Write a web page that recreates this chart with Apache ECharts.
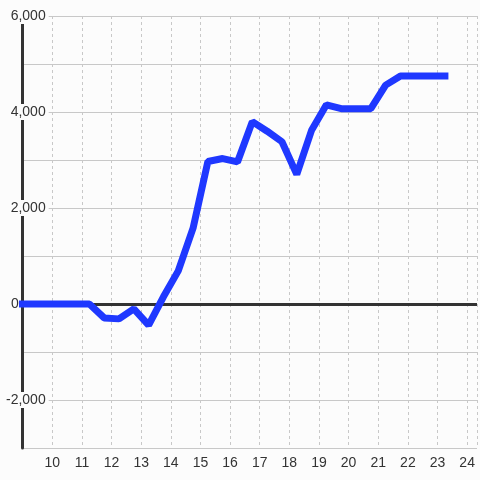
<!DOCTYPE html>
<html>
<head>
<meta charset="utf-8">
<script src="https://cdn.jsdelivr.net/npm/echarts@6/dist/echarts.min.js"></script>
<style>
  html, body { margin: 0; padding: 0; background: #fcfcfc; }
  #chart { width: 480px; height: 480px; }
</style>
</head>
<body>
<div id="chart"></div>
<script>
// time of day (hours) and the plotted values
var hours = [8.75, 9.25, 9.75, 10.25, 10.75, 11.25, 11.75, 12.25, 12.75, 13.25,
  13.75, 14.25, 14.75, 15.25, 15.75, 16.25, 16.75, 17.25, 17.75, 18.25,
  18.75, 19.25, 19.75, 20.25, 20.75, 21.25, 21.75, 22.25, 22.75, 23.25];
var values = [0, 0, 0, 0, 0, 0, -290, -310, -100, -440,
  150, 690, 1580, 2970, 3030, 2960, 3800, 3600, 3380, 2700,
  3620, 4150, 4070, 4070, 4070, 4560, 4750, 4750, 4750, 4750];

var BG = '#fcfcfc';
var TEXT = '#333';

var points = [];
for (var i = 0; i < hours.length; i++) {
  points.push([hours[i], values[i]]);
}

var chart = echarts.init(document.getElementById('chart'));
var option = {
  backgroundColor: BG,
  animation: false,
  grid: { left: 20, right: 0, top: 16, bottom: 32 },
  xAxis: {
    type: 'value',
    min: 9,
    max: 24.333,
    interval: 1,
    axisLine: { show: false },
    axisTick: { show: false },
    axisLabel: {
      color: TEXT,
      fontSize: 14,
      fontFamily: 'Liberation Sans',
      margin: 8,
      formatter: function (v) {
        return (Number.isInteger(v) && v > 9) ? String(v) : '';
      }
    },
    splitLine: { lineStyle: { color: '#c8c8c8', type: [3, 3] } }
  },
  yAxis: {
    type: 'value',
    min: -3000,
    max: 6000,
    interval: 1000,
    axisLine: { show: true, lineStyle: { color: '#333', width: 3 } },
    axisTick: { show: false },
    axisLabel: {
      margin: -26,
      align: 'right',
      formatter: function (v) {
        if (v === 0) return '{z|0}';
        if (v % 2000 === 0) return '{b|' + v.toLocaleString('en-US') + '}';
        return '';
      },
      rich: {
        b: { color: TEXT, fontSize: 14, fontFamily: 'Liberation Sans', backgroundColor: BG, padding: [1, 3], lineHeight: 14 },
        z: { color: TEXT, fontSize: 14, fontFamily: 'Liberation Sans', padding: [0, 30, 0, 0] }
      }
    },
    splitLine: { lineStyle: { color: '#c8c8c8', width: 1 } }
  },
  series: [
    {
      // zero baseline
      type: 'line',
      data: [],
      z: 1,
      markLine: {
        silent: true,
        symbol: 'none',
        label: { show: false },
        lineStyle: { color: '#333', width: 3, type: 'solid' },
        data: [{ yAxis: 0 }]
      }
    },
    {
      type: 'line',
      data: points,
      showSymbol: false,
      lineStyle: { color: '#1f38ff', width: 7, cap: 'square' },
      z: 5
    }
  ]
};
chart.setOption(option);
</script>
</body>
</html>
